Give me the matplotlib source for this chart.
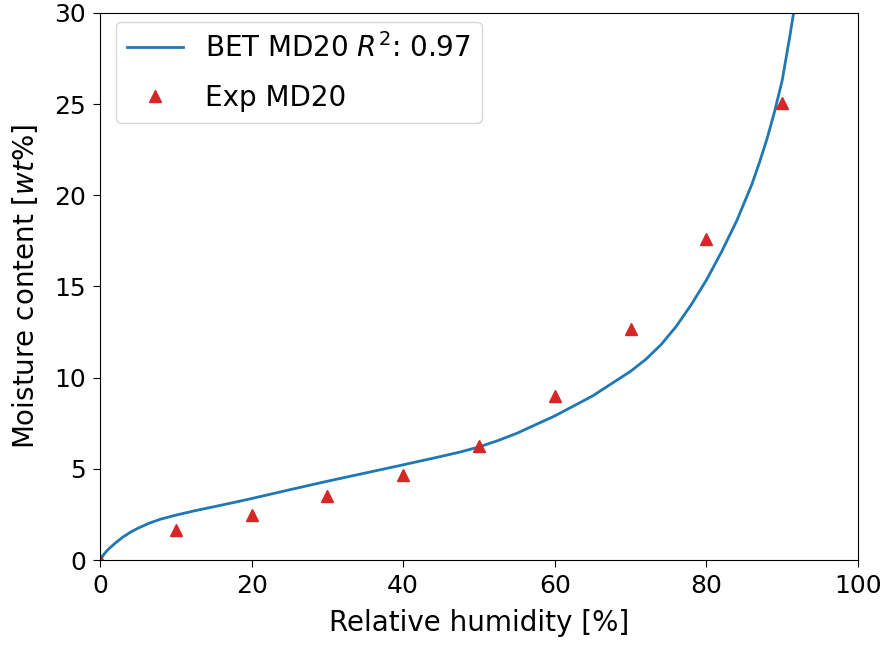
import matplotlib
matplotlib.use("Agg")
import matplotlib.pyplot as plt

# Experimental sorption points (relative humidity %, moisture wt%)
exp_rh = [0, 10, 20, 30, 40, 50, 60, 70, 80, 90]
exp_mc = [0.0, 1.65, 2.47, 3.53, 4.68, 6.27, 9.02, 12.67, 17.6, 25.05]

# BET isotherm curve samples
bet_rh = [0, 0.5, 1, 2, 3, 4, 5, 6.5, 8, 10, 12.5, 15, 17.5, 20, 25, 30, 35,
          40, 45, 47.5, 50, 52.5, 55, 60, 65, 70, 72, 74, 76, 78, 80, 82, 84,
          86, 87, 88, 89, 90, 90.5, 91, 91.5, 92]
bet_mc = [0, 0.3, 0.55, 0.92, 1.25, 1.52, 1.74, 2.02, 2.24, 2.46, 2.7, 2.92,
          3.14, 3.37, 3.85, 4.32, 4.77, 5.22, 5.68, 5.92, 6.2, 6.55, 6.95,
          7.9, 9.0, 10.35, 11.0, 11.8, 12.8, 14.0, 15.35, 16.9, 18.6, 20.6,
          21.8, 23.1, 24.6, 26.3, 27.5, 28.7, 30.0, 31.4]
r2 = 0.97

fig = plt.figure(figsize=(8.87, 6.48), dpi=100)
ax = fig.add_axes([0.1127, 0.1358, 0.8546, 0.8442])

ax.plot(bet_rh, bet_mc, color="#1f77b4", lw=2.0,
        label=f"BET MD20 $R^2$: {r2:.2f}")
ax.plot(exp_rh, exp_mc, "^", color="#d62728", ms=8.5, label="Exp MD20")

ax.set_xlim(0, 100)
ax.set_ylim(0, 30)
ax.set_xticks([0, 20, 40, 60, 80, 100])
ax.set_yticks([0, 5, 10, 15, 20, 25, 30])
ax.tick_params(labelsize=18, length=5, pad=5)
ax.set_xlabel("Relative humidity [%]", fontsize=20, labelpad=8)
ax.set_ylabel("Moisture content [$wt\\%$]", fontsize=20, labelpad=10)
ax.legend(loc="upper left", fontsize=20, labelspacing=0.75,
          borderaxespad=0, bbox_to_anchor=(0.021, 0.984))

fig.savefig("out.png", dpi=100)
